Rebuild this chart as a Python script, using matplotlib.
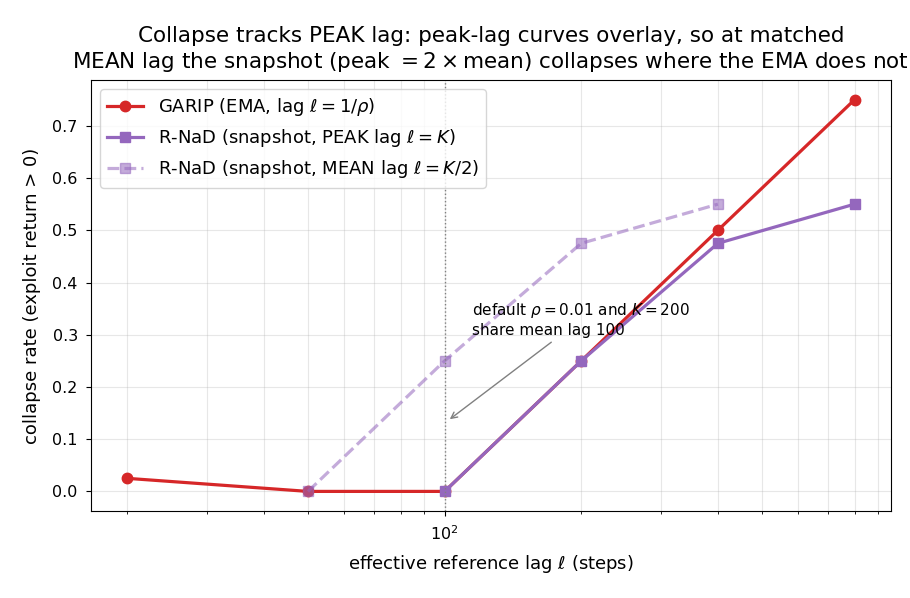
import matplotlib
matplotlib.use("Agg")
import matplotlib.pyplot as plt

# effective lag (steps) and collapse rates
garip_lag = [20, 50, 100, 200, 400, 800]
garip_rate = [0.025, 0.0, 0.0, 0.25, 0.5, 0.75]

rnad_peak_lag = [100, 200, 400, 800]
rnad_rate = [0.0, 0.25, 0.475, 0.55]
rnad_mean_lag = [50, 100, 200, 400]

red = "#d62728"
purple = "#9467bd"

fig, ax = plt.subplots(figsize=(9.1, 5.98), dpi=100)
fig.subplots_adjust(left=0.1, right=0.979, top=0.866, bottom=0.1455)

ax.plot(garip_lag, garip_rate, "-o", color=red, lw=2.3, ms=7.5,
        label=r"GARIP (EMA, lag $\ell=1/\rho$)")
ax.plot(rnad_peak_lag, rnad_rate, "-s", color=purple, lw=2.3, ms=7.5,
        label=r"R-NaD (snapshot, PEAK lag $\ell=K$)")
ax.plot(rnad_mean_lag, rnad_rate, "--s", color=purple, lw=2.3, ms=7.5, alpha=0.55,
        label=r"R-NaD (snapshot, MEAN lag $\ell=K/2$)")

ax.axvline(100, color="gray", ls=":", lw=1)
ax.annotate("default $\\rho=0.01$ and $K=200$\nshare mean lag 100",
            xy=(101.5, 0.135), xytext=(115, 0.30), fontsize=11,
            arrowprops=dict(arrowstyle="->", color="gray"))

ax.set_xscale("log")
ax.grid(True, which="both", alpha=0.3)
ax.set_xlabel(r"effective reference lag $\ell$ (steps)", fontsize=13, labelpad=7)
ax.set_ylabel("collapse rate (exploit return > 0)", fontsize=13, labelpad=8)
ax.tick_params(labelsize=11.5, pad=6)
ax.set_title("Collapse tracks PEAK lag: peak-lag curves overlay, so at matched\n"
             r"MEAN lag the snapshot (peak $=2\times$mean) collapses where the EMA does not",
             fontsize=15.5, pad=9)
ax.legend(loc="upper left", fontsize=13)

fig.savefig("out.png")
